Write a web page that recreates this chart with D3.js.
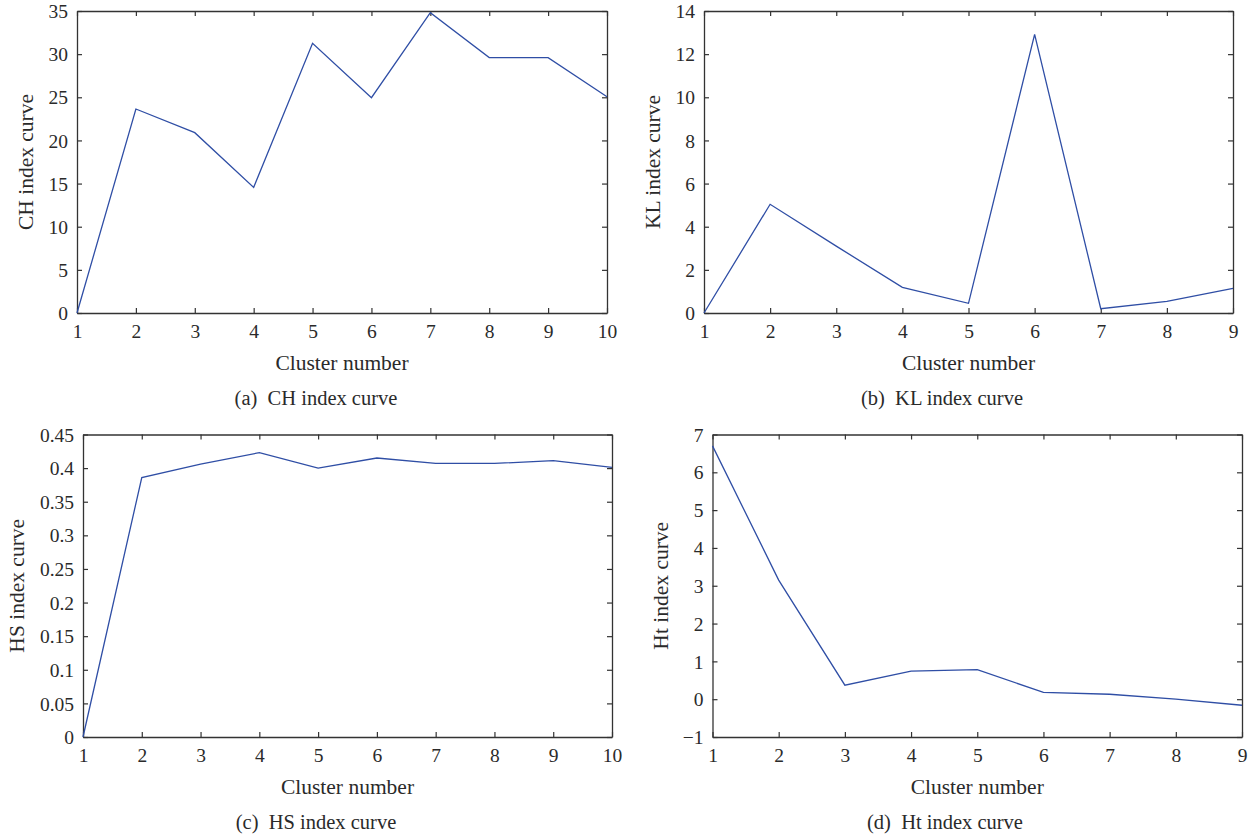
<!DOCTYPE html>
<html><head><meta charset="utf-8">
<script src="https://cdn.jsdelivr.net/npm/d3@7"></script>
<style>
body{margin:0;background:#fff;}
svg text{font-family:"Liberation Serif","DejaVu Serif",serif;fill:#2a2a2a;}
</style></head>
<body><svg id="c" width="1256" height="835"></svg>
<script>
// ---- data ----
const chClusters = [1,2,3,4,5,6,7,8,9,10];
const chValues = [0, 23.64, 20.9, 14.56, 31.25, 24.95, 34.8, 29.6, 29.6, 25.07];
const chYTicks = [0,5,10,15,20,25,30,35];

const klClusters = [1,2,3,4,5,6,7,8,9];
const klValues = [0, 5.04, 3.1, 1.19, 0.45, 12.92, 0.2, 0.54, 1.14];
const klYTicks = [0,2,4,6,8,10,12,14];

const hsClusters = [1,2,3,4,5,6,7,8,9,10];
const hsValues = [0, 0.386, 0.406, 0.423, 0.400, 0.415, 0.407, 0.407, 0.411, 0.401];
const hsYTicks = [0,0.05,0.1,0.15,0.2,0.25,0.3,0.35,0.4,0.45];

const htClusters = [1,2,3,4,5,6,7,8,9];
const htValues = [6.70, 3.15, 0.37, 0.74, 0.78, 0.18, 0.13, 0.0, -0.16];
const htYTicks = [-1,0,1,2,3,4,5,6,7];

const yLabels = ["CH index curve","KL index curve","HS index curve","Ht index curve"];
const captions = ["(a)\u2002CH index curve","(b)\u2002KL index curve","(c)\u2002HS index curve","(d)\u2002Ht index curve"];
const xLabel = "Cluster number";

// ---- layout ----
const panels = [
  {x:chClusters, y:chValues, yt:chYTicks, yd:[0,35], box:[77,11,607,313], ylx:25, capx:316, lab:yLabels[0], cap:captions[0]},
  {x:klClusters, y:klValues, yt:klYTicks, yd:[0,14], box:[704,11,1233,313], ylx:652, capx:942, lab:yLabels[1], cap:captions[1]},
  {x:hsClusters, y:hsValues, yt:hsYTicks, yd:[0,0.45], box:[83,434.5,612,737], ylx:16, capx:316, lab:yLabels[2], cap:captions[2]},
  {x:htClusters, y:htValues, yt:htYTicks, yd:[-1,7], box:[712.5,434.5,1242,737], ylx:660, capx:945, lab:yLabels[3], cap:captions[3]},
];

const svg = d3.select("#c");
const fmt = d3.format("~g");
const axisColor = "#333";
const lineColor = "#2f4ea5";
const fs = 19.5;

panels.forEach(p=>{
  const [x0,y0,x1,y1] = p.box;
  const xs = d3.scaleLinear().domain(d3.extent(p.x)).range([x0,x1]);
  const ys = d3.scaleLinear().domain(p.yd).range([y1,y0]);
  const g = svg.append("g");
  const tl = 5;
  const ab = g.append("g").attr("transform",`translate(0,${y1})`)
    .call(d3.axisBottom(xs).tickValues(p.x).tickFormat(fmt).tickSizeInner(-tl).tickSizeOuter(0).tickPadding(11));
  const at = g.append("g").attr("transform",`translate(0,${y0})`)
    .call(d3.axisTop(xs).tickValues(p.x).tickFormat("").tickSizeInner(-tl).tickSizeOuter(0));
  const al = g.append("g").attr("transform",`translate(${x0},0)`)
    .call(d3.axisLeft(ys).tickValues(p.yt).tickFormat(fmt).tickSizeInner(-tl).tickSizeOuter(0).tickPadding(9));
  const ar = g.append("g").attr("transform",`translate(${x1},0)`)
    .call(d3.axisRight(ys).tickValues(p.yt).tickFormat("").tickSizeInner(-tl).tickSizeOuter(0));
  [ab,at,al,ar].forEach(a=>{
    a.selectAll("path").attr("stroke",axisColor).attr("stroke-width",1.3);
    a.selectAll("line").attr("stroke",axisColor).attr("stroke-width",1.2);
    a.selectAll("text").attr("font-size",fs).attr("font-family","Liberation Serif").attr("fill","#2a2a2a");
  });
  al.selectAll("text").attr("dy","0.34em");
  const line = d3.line().x((d,i)=>xs(p.x[i])).y(d=>ys(d));
  g.append("path").datum(p.y).attr("d",line).attr("fill","none")
    .attr("stroke",lineColor).attr("stroke-width",1.3);
  g.append("text").attr("x",(x0+x1)/2).attr("y",y1+57).attr("text-anchor","middle")
    .attr("font-size",21.5).text(xLabel);
  g.append("text").attr("x",p.capx).attr("y",y1+92).attr("text-anchor","middle")
    .attr("font-size",20.5).text(p.cap);
  g.append("text").attr("transform",`translate(${p.ylx},${(y0+y1)/2}) rotate(-90)`)
    .attr("text-anchor","middle").attr("dy","0.35em").attr("font-size",21.5).text(p.lab);
});
</script></body></html>
